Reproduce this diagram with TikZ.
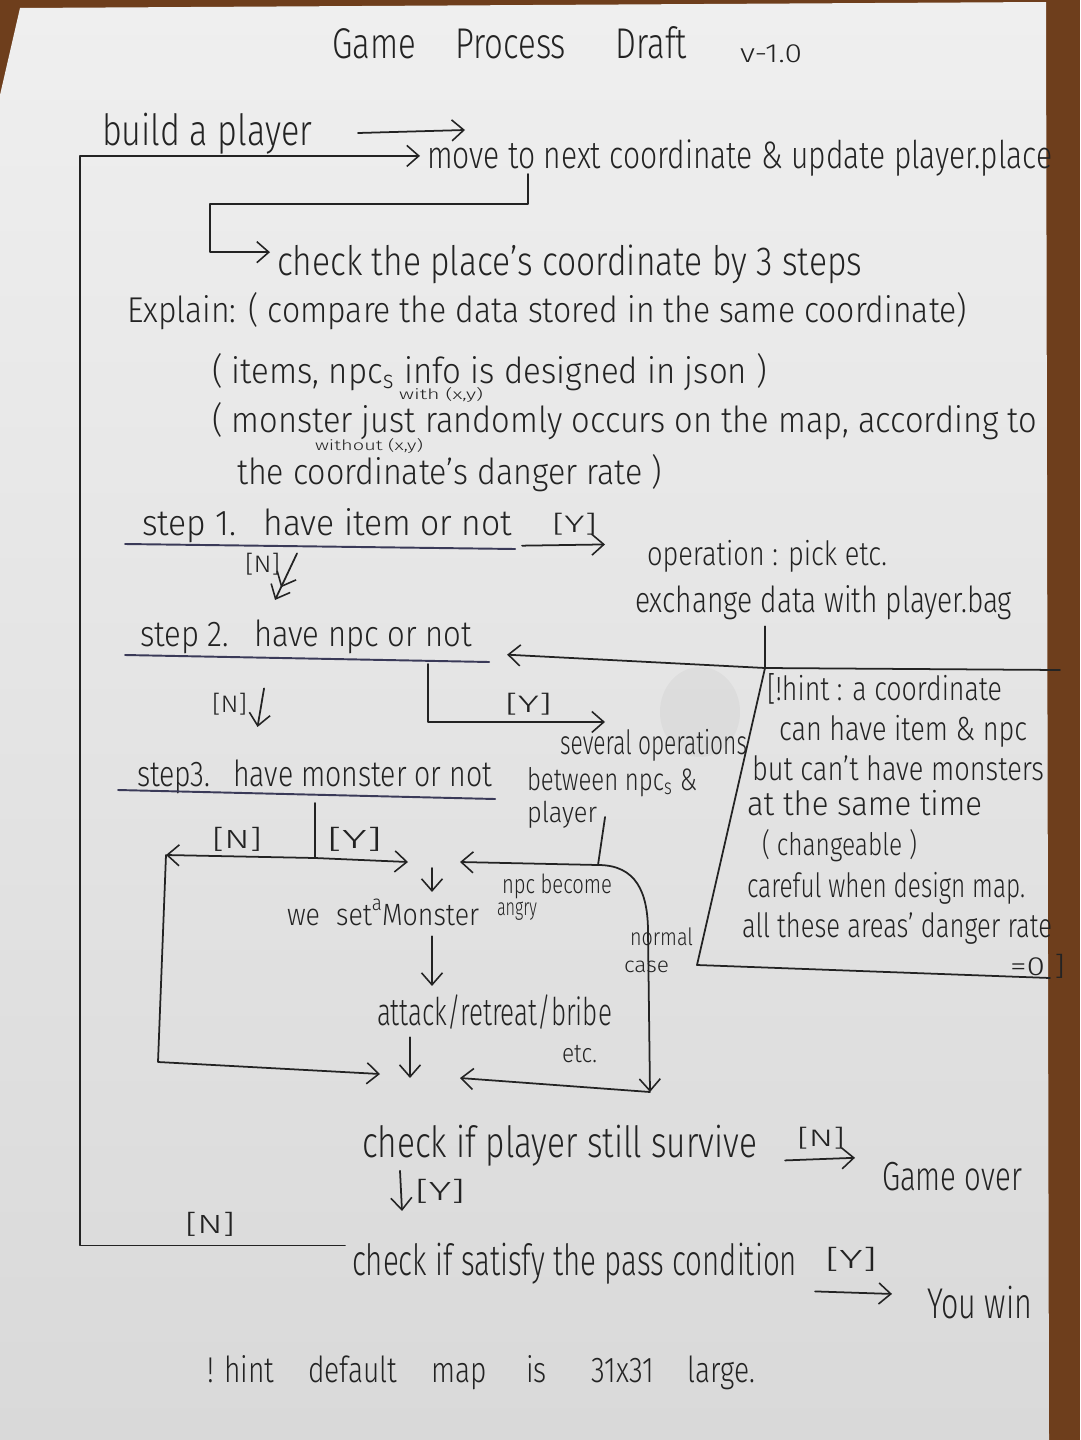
\documentclass[tikz,border=0pt]{standalone}
\usepackage{fontspec}
\setmainfont{Fira Sans Light}
\usepackage{graphicx}
\usetikzlibrary{arrows.meta}
\newlength\pxu \setlength\pxu{0.02cm}
% handwriting-like text: given width and letter height (in px units)
\newcommand\hw[3][30]{\resizebox{#2\pxu}{#1\pxu}{\vphantom{(}#3}}
\definecolor{ink}{HTML}{232323}
\definecolor{pen}{HTML}{3A3A58}
\definecolor{desk}{HTML}{6E3E1C}
\definecolor{papertop}{HTML}{EFEFEF}
\definecolor{paperbot}{HTML}{D9D9D9}

\begin{document}
\begin{tikzpicture}[x=0.02cm,y=-0.02cm,
  txt/.style={anchor=base west, inner sep=0pt, outer sep=4pt, text=ink},
  wire/.style={draw=ink, line width=1pt, line cap=round, line join=round},
  flow/.style={wire, -{Straight Barb[length=2.4mm,width=4.2mm,line width=0.9pt]}},
  dflow/.style={wire, -{Straight Barb[length=2.4mm,width=4.2mm,line width=0.9pt]Straight Barb[length=2.4mm,width=4.2mm,line width=0.9pt]}},
  uline/.style={draw=pen, line width=1.1pt, line cap=round}]
\useasboundingbox (0,0) rectangle (1080,1440);

% desk and sheet of paper
\fill[desk] (0,0) rectangle (1080,1440);
\shade[top color=papertop, bottom color=paperbot]
  (20,8) -- (1046,2) -- (1049,1440) -- (0,1440) -- (0,95) -- cycle;
\fill[gray, opacity=0.08] (700,712) ellipse [x radius=40, y radius=45];

% heading
\node[txt] (title) at (325,58) {\hw[36]{355}{Game\hspace{1.2em}Process\hspace{1.5em}Draft}};
\node[txt] (ver) at (733,62) {\hw[22]{62}{v-1.0}};

% start of the loop
\node[txt] (build) at (95,145) {\hw[36]{210}{build a player}};
\node[txt] (move) at (420,168) {\hw[32]{625}{move to next coordinate \& update player.place}};
\node[txt] (check) at (270,275) {\hw[34]{585}{check the place's coordinate by 3 steps}};

% explanation
\node[txt] (exp1) at (120,322) {\hw[30]{840}{Explain: ( compare the data stored in the same coordinate)}};
\node[txt] (exp2) at (205,383) {\hw[30]{555}{( items, npc\textsubscript{s} info is designed in json )}};
\node[txt] (with) at (392,399) {\hw[12]{84}{with (x,y)}};
\node[txt] (exp3) at (205,432) {\hw[30]{825}{( monster just randomly occurs on the map, according to}};
\node[txt] (without) at (308,450) {\hw[12]{108}{without (x,y)}};
\node[txt] (exp4) at (230,484) {\hw[30]{425}{the coordinate's danger rate )}};

% step 1
\node[txt] (s1) at (135,535) {\hw[30]{370}{step 1.\hspace{0.8em}have item or not}};
\node[txt] (s1y) at (545,532) {\hw[20]{45}{[Y]}};
\node[txt] (oper) at (640,565) {\hw[28]{240}{operation : pick etc.}};
\node[txt] (exch) at (628,612) {\hw[30]{377}{exchange data with player.bag}};
\node[txt] (s1n) at (238,572) {\hw[20]{35}{[N]}};

% step 2
\node[txt] (s2) at (133,646) {\hw[30]{332}{step 2.\hspace{0.8em}have npc or not}};
\node[txt] (s2n) at (205,712) {\hw[20]{35}{[N]}};
\node[txt] (s2y) at (498,712) {\hw[20]{47}{[Y]}};
\node[txt] (ops1) at (553,754) {\hw[28]{187}{several operations}};
\node[txt] (ops2) at (520,790) {\hw[26]{170}{between npc\textsubscript{s} \&}};
\node[txt] (ops3) at (520,822) {\hw[24]{70}{player}};

% step 3
\node[txt] (s3) at (130,786) {\hw[30]{355}{step3.\hspace{0.8em}have monster or not}};
\node[txt] (s3n) at (205,848) {\hw[22]{50}{[N]}};
\node[txt] (s3y) at (320,848) {\hw[22]{55}{[Y]}};
\node[txt] (monster) at (280,925) {\hw[26]{192}{we\hspace{0.6em}set\raisebox{0.9ex}{\scriptsize a}Monster}};
\node[txt] (angry1) at (495,893) {\hw[22]{110}{npc become}};
\node[txt] (angry2) at (490,915) {\hw[20]{40}{angry}};
\node[txt] (norm1) at (623,945) {\hw[20]{63}{normal}};
\node[txt] (norm2) at (617,972) {\hw[18]{45}{case}};
\node[txt] (attack) at (370,1025) {\hw[32]{235}{attack/retreat/bribe}};
\node[txt] (etc) at (555,1062) {\hw[22]{35}{etc.}};

% end checks
\node[txt] (survive) at (355,1157) {\hw[36]{395}{check if player still survive}};
\node[txt] (gon) at (790,1146) {\hw[20]{48}{[N]}};
\node[txt] (gameover) at (875,1190) {\hw[34]{140}{Game over}};
\node[txt] (svy) at (408,1200) {\hw[22]{50}{[Y]}};
\node[txt] (pass) at (345,1275) {\hw[36]{445}{check if satisfy the pass condition}};
\node[txt] (passy) at (818,1268) {\hw[22]{52}{[Y]}};
\node[txt] (win) at (920,1318) {\hw[36]{105}{You win}};
\node[txt] (passn) at (178,1233) {\hw[22]{50}{[N]}};
\node[txt] (foot) at (200,1382) {\hw[30]{548}{! hint\hspace{1.2em}default\hspace{1.2em}map\hspace{1.4em}is\hspace{1.6em}31x31\hspace{1.2em}large.}};

% hint box
\node[txt] (h1) at (760,700) {\hw[28]{235}{[!hint : a coordinate}};
\node[txt] (h2) at (772,740) {\hw[28]{248}{can have item \& npc}};
\node[txt] (h3) at (745,780) {\hw[28]{292}{but can't have monsters}};
\node[txt] (h4) at (740,815) {\hw[28]{235}{at the same time}};
\node[txt] (h5) at (755,855) {\hw[26]{155}{( changeable )}};
\node[txt] (h6) at (740,897) {\hw[28]{278}{careful when design map.}};
\node[txt] (h7) at (735,937) {\hw[28]{310}{all these areas' danger rate}};
\node[txt] (h8) at (1003,975) {\hw[22]{55}{=0 ]}};

% named corner points
\coordinate (loopL) at (80,700);
\coordinate (sa1) at (358,133);
\coordinate (sa2) at (465,130);
\coordinate (m1) at (528,174);
\coordinate (c1) at (210,204);
\coordinate (hb) at (765,668);
\coordinate (hbTR) at (1060,670);
\coordinate (hbBL) at (697,965);
\coordinate (hbBR) at (1050,978);
\coordinate (s2y0) at (428,664);
\coordinate (s3j) at (315,803);
\coordinate (s3m) at (315,858);
\coordinate (nL) at (166,855);
\coordinate (nB) at (158,1062);
\coordinate (mj) at (432,862);
\coordinate (pc) at (598,865);
\coordinate (ncB) at (650,1092);
\coordinate (sj) at (410,1078);

% underlines of the three steps
\draw[uline] ([shift={(-10,9)}]s1.base west) -- ([shift={(-4,14)}]s1.base east);
\draw[uline] ([shift={(-8,9)}]s2.base west) -- ([shift={(10,16)}]s2.base east);
\draw[uline] ([shift={(-12,4)}]s3.base west) -- ([shift={(-4,13)}]s3.base east);

% main loop
\draw[flow] (sa1) -- (sa2);
\draw[flow] ([shift={(0,-16)}]pass.west) -| (loopL) |- (move.west);
\draw[wire] (m1) |- (c1);
\draw[flow] (c1) |- ([shift={(0,-10)}]check.west);

% step 1 branches
\draw[flow] ([shift={(3,22)}]s1.east) -- ([shift={(-35,-10)}]oper.west);
\draw[dflow] ([shift={(-30,4)}]s1.south) -- ([shift={(-31,-9)}]s2.north);

% operation box back to step 2, and the hint frame
\draw[wire] (exch.south -| hb) -- (hb);
\draw[flow] (hb) -- ([shift={(28,20)}]s2.east);
\draw[wire] (hb) -- (hbTR);
\draw[wire] (hb) -- (hbBL) -- (hbBR);

% step 2 branches
\draw[flow] ([shift={(-42,28)}]s2.south) -- ([shift={(-57,-22)}]s3.north);
\draw[flow] (s2y0) |- ([shift={(52,3)}]ops1.north west);

% step 3 branches
\draw[wire] (s3j) -- (s3m);
\draw[flow] (s3m) -- ([shift={(-24,0)}]mj);
\draw[flow] (s3m) -- (nL);
\draw[flow] (nL) -- (nB) -- ([shift={(-30,-4)}]sj);
\draw[wire] ([shift={(1,26)}]ops3.north east) -- (pc);
\draw[flow] (pc) -- ([shift={(28,0)}]mj);
\draw[flow] (pc) .. controls (636,865) and (648,892) .. (648,932) -- (ncB);
\draw[flow] (ncB) -- ([shift={(50,0)}]sj);
\draw[flow] ([shift={(0,6)}]mj) -- (monster.north -| mj);
\draw[flow] (monster.south -| mj) -- (attack.north -| mj);
\draw[flow] (attack.south -| sj) -- (sj);

% survival and pass checks
\draw[flow] ([shift={(21,17)}]survive.east) -- ([shift={(-20,-18)}]gameover.west);
\draw[flow] ([shift={(45,-2)}]survive.south west) -- ([shift={(57,-21)}]pass.north west);
\draw[flow] ([shift={(11,30)}]pass.east) -- ([shift={(-28,-9)}]win.west);
\end{tikzpicture}
\end{document}
